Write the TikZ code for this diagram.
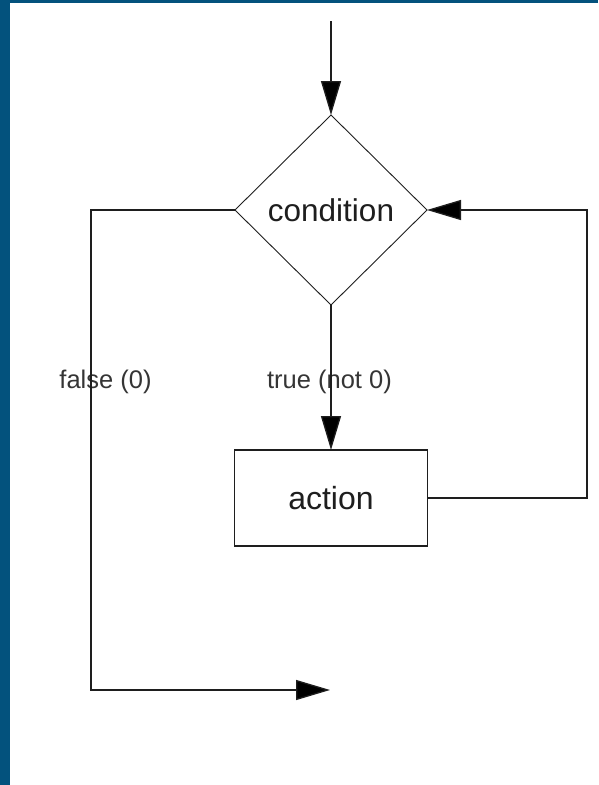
\documentclass[tikz,border=0pt]{standalone}
\usepackage{fontspec}
\setmainfont{Liberation Sans}
\usetikzlibrary{shapes.geometric,arrows.meta}
\definecolor{frameblue}{HTML}{03527D}
\definecolor{ink}{HTML}{1E1E1E}
\begin{document}
\begin{tikzpicture}[x=1pt,y=-1pt,
  conn/.style={line width=1.3pt,draw=ink},
  arr/.style={conn,-{Triangle[length=34pt,width=20pt,fill=black]}},
  decision/.style={diamond,draw=ink,line width=0.9pt,minimum width=192pt,minimum height=190pt,inner sep=0pt,outer sep=0pt,font=\fontsize{31.5}{36}\selectfont,text=ink},
  actbox/.style={rectangle,draw=ink,line width=1.3pt,minimum width=193pt,minimum height=96pt,inner sep=0pt,outer sep=0pt,font=\fontsize{32}{36}\selectfont,text=ink},
  lbl/.style={font=\fontsize{25.5}{30}\selectfont,text=ink!90,inner sep=0pt}]
\useasboundingbox (0,0) rectangle (598,785);
\fill[white] (0,0) rectangle (598,785);
\fill[frameblue] (0,0) rectangle (598,3);
\fill[frameblue] (0,0) rectangle (10,785);
\node[decision] (cond) at (331,210) {condition};
\node[actbox] (act) at (331,498) {action};
\node[lbl] (lfalse) at (105.5,382) {false (0)};
\node[lbl] (ltrue) at (329.5,382) {true (not 0)};
\coordinate (start) at (331,21);
\coordinate (lc1) at (91,210);
\coordinate (lc2) at (91,690);
\coordinate (exit) at (330,690);
\coordinate (rc1) at (587,498);
\coordinate (rc2) at (587,210);
\draw[arr] (start) -- (cond.north);
\draw[arr] (cond.south) -- (act.north);
\draw[arr] (cond.west) -- (lc1) -- (lc2) -- (exit);
\draw[arr] (act.east) -- (rc1) -- (rc2) -- (cond.east);
\end{tikzpicture}
\end{document}
